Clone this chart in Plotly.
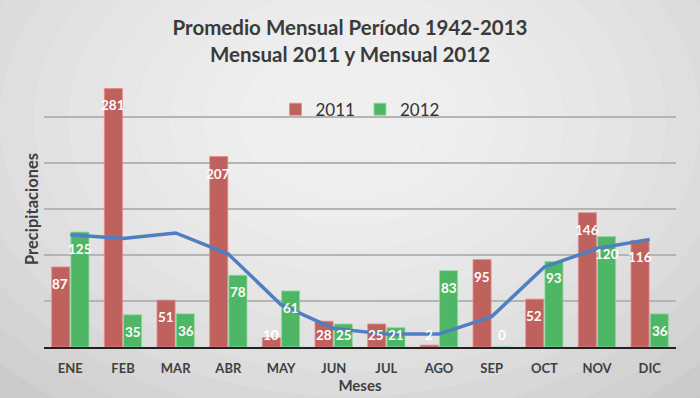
import plotly.graph_objects as go

meses = ["ENE", "FEB", "MAR", "ABR", "MAY", "JUN", "JUL", "AGO", "SEP", "OCT", "NOV", "DIC"]
serie_2011 = [87, 281, 51, 207, 10, 28, 25, 2, 95, 52, 146, 116]
serie_2012 = [125, 35, 36, 78, 61, 25, 21, 83, 0, 93, 120, 36]
promedio = [122, 118, 124, 101, 46, 20, 14, 14, 33, 87, 107, 117]

FONT = "Lato, 'Open Sans', sans-serif"
RED = "#bf615d"
GREEN = "#4fb665"
BLUE = "#4f7fc0"

fig = go.Figure()
fig.add_trace(go.Bar(x=meses, y=serie_2011, name="2011",
                     marker=dict(color=RED, line=dict(color="rgba(230,140,140,0.8)", width=1))))
fig.add_trace(go.Bar(x=meses, y=serie_2012, name="2012",
                     marker=dict(color=GREEN, line=dict(color="rgba(140,220,160,0.8)", width=1))))
fig.add_trace(go.Scatter(x=meses, y=promedio, mode="lines", name="Promedio 1942-2013",
                         line=dict(color=BLUE, width=3.5), showlegend=False))

# data labels (white, near the top inside each bar)
annotations = []
for series, shift in ((serie_2011, -10), (serie_2012, 10)):
    for m, v in zip(meses, series):
        annotations.append(dict(x=m, y=max(v, 32), xref="x", yref="y", text=str(v),
                                showarrow=False, xshift=shift, yshift=-7, yanchor="top",
                                font=dict(family=FONT, size=13.5, color="white", weight="bold")))

# soft radial background gradient
W, H = 700, 398
L, R, T, B = 44, 24, 71, 51
pw, ph = W - L - R, H - T - B
def px2paper(x, y):
    return (x - L) / pw, (H - B - y) / ph
shapes = []
cx, cy = 350, 120
n = 14
for i in range(n):
    rx = 520 - i * 34
    ry = rx * 0.72
    x0, y0 = px2paper(cx - rx, cy + ry)
    x1, y1 = px2paper(cx + rx, cy - ry)
    shapes.append(dict(type="circle", xref="paper", yref="paper", x0=x0, y0=y0, x1=x1, y1=y1,
                       fillcolor="rgba(255,255,255,0.10)", line=dict(width=0), layer="below"))

fig.update_layout(
    width=W, height=H,
    margin=dict(l=L, r=R, t=T, b=B),
    paper_bgcolor="#c6c6c6",
    plot_bgcolor="rgba(0,0,0,0)",
    barmode="group", bargap=0.27, bargroupgap=0.06,
    shapes=shapes,
    annotations=annotations,
    title=dict(text="Promedio Mensual Período 1942-2013<br>Mensual 2011 y Mensual 2012",
               x=0.5, xanchor="center", y=0.912, yanchor="middle",
               font=dict(family=FONT, size=20.5, color="#3a3a3a", weight="bold")),
    legend=dict(orientation="h", x=0.5, xanchor="center", y=0.86, yanchor="middle",
                font=dict(family=FONT, size=17, color="#333333"), bgcolor="rgba(0,0,0,0)",
                itemwidth=30),
    xaxis=dict(showgrid=False, showline=True, linecolor="#222222", linewidth=2,
               ticklabelstandoff=8,
               tickfont=dict(family=FONT, size=13, color="#404040", weight="bold"),
               title=dict(text="Meses", standoff=0,
                          font=dict(family=FONT, size=15, color="#404040", weight="bold"))),
    yaxis=dict(range=[0, 300], dtick=50, showticklabels=False, gridcolor="#b4b4b4", gridwidth=1.5,
               zeroline=False,
               title=dict(text="Precipitaciones", standoff=0,
                          font=dict(family=FONT, size=16.5, color="#404040", weight="bold"))),
)

fig.write_html("out.html", config={"displayModeBar": False},
               post_script="document.body.style.margin='0px';")
